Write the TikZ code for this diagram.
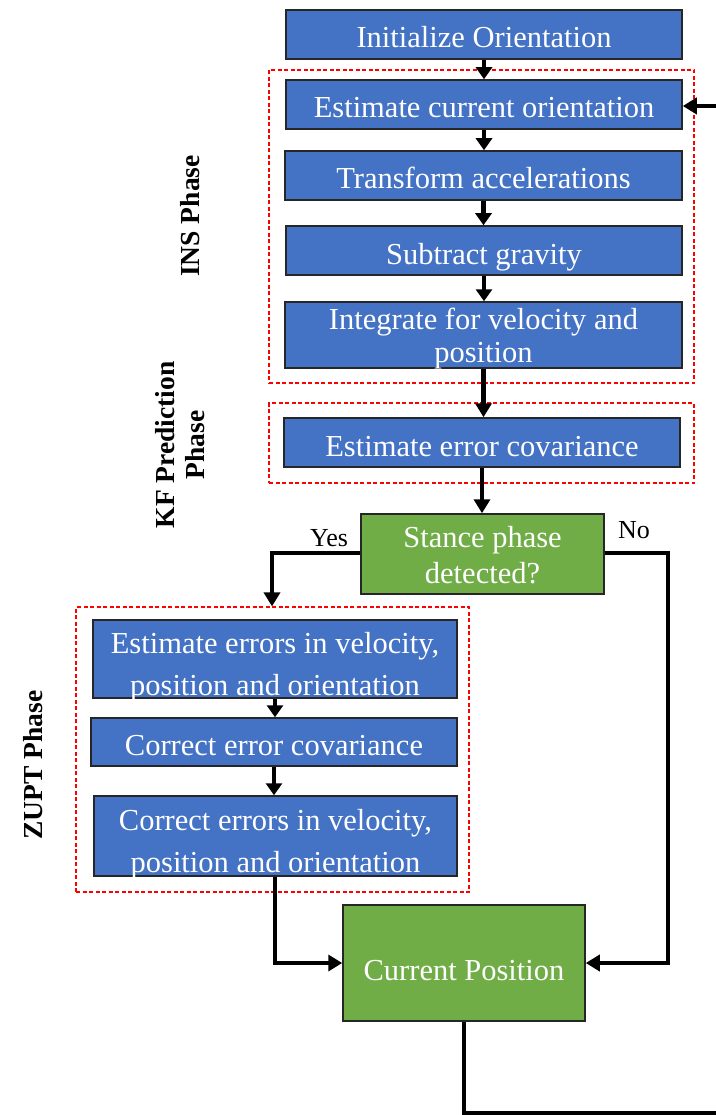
\documentclass[tikz,border=0pt]{standalone}
\usepackage{fontspec}
\setmainfont{Liberation Serif}
\usetikzlibrary{arrows.meta}
\definecolor{boxblue}{HTML}{4472C4}
\definecolor{boxgreen}{HTML}{70AD47}
\tikzset{
  bluebox/.style={draw=black!85, line width=1.5pt, fill=boxblue, text=white, inner sep=0pt,
    font=\fontsize{30.5}{33}\selectfont, align=center, text height=27pt, text depth=0pt},
  greenbox/.style={draw=black!85, line width=1.5pt, fill=boxgreen, text=white, inner sep=0pt,
    font=\fontsize{30.5}{36}\selectfont, align=center},
  lastline/.style 2 args={text height=#1, text depth=#2},
  frame/.style={draw=red, dashed, dash pattern=on 4pt off 2.5pt, line width=1.2pt, inner sep=0pt},
  flow/.style={line width=4.5pt, -{Triangle[length=14pt,width=16pt]}},
  shortflow/.style={line width=4.5pt, -{Triangle[length=12pt,width=16pt]}},
  plain/.style={line width=4.5pt},
  phase/.style={font=\fontsize{27.5}{30}\selectfont\bfseries, rotate=90, align=center},
  yn/.style={font=\fontsize{26}{28}\selectfont}
}
\begin{document}
\begin{tikzpicture}[x=1pt,y=-1pt]
\useasboundingbox (0,0) rectangle (715,1115);
% frames
\node[frame, minimum width=425pt, minimum height=313pt] (insframe) at (481.5,226.5) {};
\node[frame, minimum width=425pt, minimum height=80pt] (kfframe) at (481.5,443) {};
\node[frame, minimum width=393pt, minimum height=285pt] (zuptframe) at (272.5,749.5) {};
% boxes
\node[bluebox, minimum width=396pt, minimum height=49pt] (init) at (484,34.5) {Initialize Orientation};
\node[bluebox, minimum width=396pt, minimum height=49pt] (est) at (484,104.5) {Estimate current orientation};
\node[bluebox, minimum width=397pt, minimum height=49pt] (trans) at (483.5,175.5) {Transform accelerations};
\node[bluebox, minimum width=396pt, minimum height=49pt] (sub) at (484,250.5) {Subtract gravity};
\node[bluebox, lastline={56pt}{2pt}, minimum width=397pt, minimum height=66pt] (integ) at (483.5,335) {Integrate for velocity and\\position};
\node[bluebox, minimum width=396pt, minimum height=49pt] (cov) at (482,442.5) {Estimate error covariance};
\node[greenbox, lastline={62pt}{4pt}, minimum width=243pt, minimum height=80pt] (stance) at (482.5,554) {Stance phase\\detected?};
\node[bluebox, lastline={74pt}{2pt}, font=\fontsize{30.5}{42}\selectfont, minimum width=364pt, minimum height=78pt] (ezupt) at (275,659) {Estimate errors in velocity,\\position and orientation};
\node[bluebox, minimum width=366pt, minimum height=48pt] (cec) at (274,742) {Correct error covariance};
\node[bluebox, lastline={74pt}{2pt}, font=\fontsize{30.5}{42}\selectfont, minimum width=363pt, minimum height=80pt] (cezupt) at (275.5,836) {Correct errors in velocity,\\position and orientation};
\node[greenbox, lastline={34pt}{0pt}, minimum width=242pt, minimum height=116pt] (cur) at (464,963) {Current Position};
% labels
\node[phase] (insl) at (190,216) {INS Phase};
\node[phase] (kfl) at (180,445) {KF Prediction\\Phase};
\node[phase] (zuptl) at (33,765) {ZUPT Phase};
\node[yn] (yes) at (329,538) {Yes};
\node[yn] (no) at (634,530) {No};
% coordinates
\coordinate (yescorner) at (272,553);
\coordinate (nocorner) at (668,553);
\coordinate (nobottom) at (668,963);
\coordinate (leftbottom) at (275,963);
\coordinate (curdown) at (464,1113);
\coordinate (loopend) at (716,1113);
\coordinate (loopin) at (716,106);
% connectors
\draw[shortflow] (init.south) -- (est.north);
\draw[shortflow] (est.south) -- (est.south |- trans.north);
\draw[shortflow] (trans.south) -- (trans.south |- sub.north);
\draw[shortflow] (sub.south) -- (sub.south |- integ.north);
\draw[flow] (integ.south) -- (integ.south |- cov.north);
\draw[flow] (cov.south) -- (cov.south |- stance.north);
\draw[flow] (stance.west |- yescorner) -- (yescorner) -- (zuptframe.north -| yescorner);
\draw[flow] (stance.east |- nocorner) -- (nocorner) -- (nobottom) -- (cur.east |- nobottom);
\draw[shortflow] (ezupt.south) -- (ezupt.south |- cec.north);
\draw[shortflow] (cec.south) -- (cec.south |- cezupt.north);
\draw[flow] (cezupt.south -| leftbottom) -- (leftbottom) -- (cur.west |- leftbottom);
\draw[plain] (cur.south) -- (curdown) -- (loopend);
\draw[flow] (loopin) -- (est.east |- loopin);
\end{tikzpicture}
\end{document}
